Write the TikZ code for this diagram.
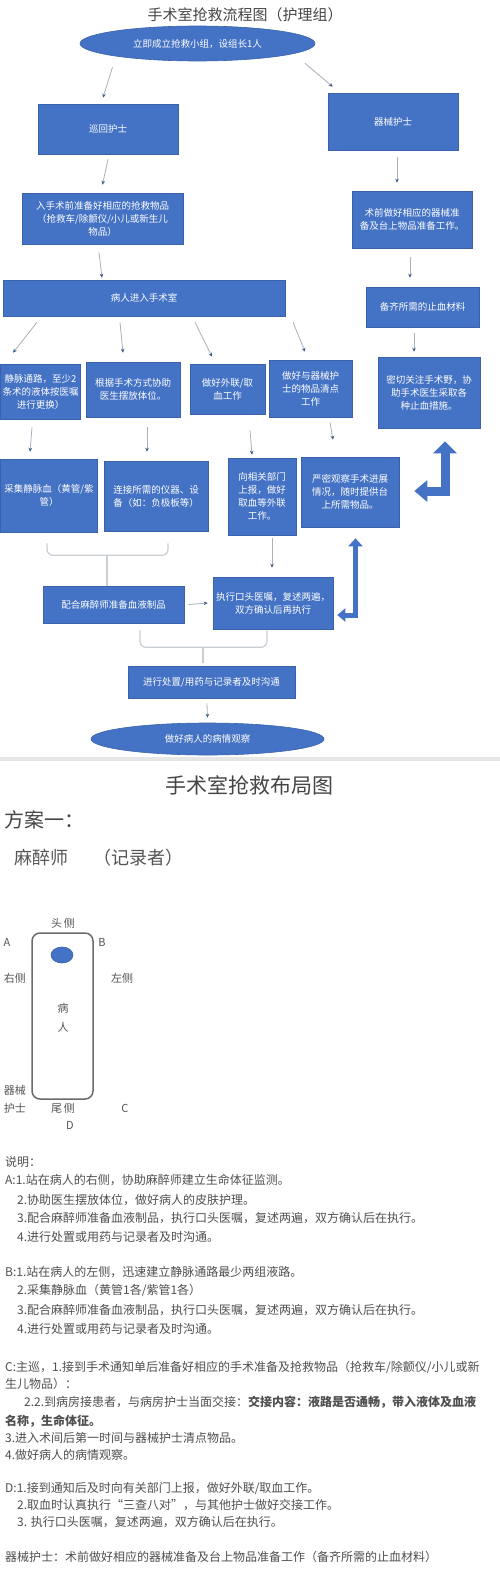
\documentclass[tikz,border=0pt]{standalone}
\usepackage{fontspec}
\setmainfont{Noto Sans CJK SC}
\usetikzlibrary{arrows.meta,calc,shapes.geometric}
\definecolor{boxblue}{HTML}{4472C4}
\definecolor{boxedge}{HTML}{3A62AC}
\definecolor{conngray}{HTML}{A9B0BC}
\definecolor{arrowblue}{HTML}{3E5A8C}
\definecolor{bracegray}{HTML}{C9CDD4}
\definecolor{labelgray}{HTML}{555555}
\definecolor{textgray}{HTML}{4F4F4F}
\definecolor{titlegray}{HTML}{454545}
\definecolor{sepgray}{HTML}{E6E6E6}
\definecolor{bedgray}{HTML}{6A6A6A}
\begin{document}
\begin{tikzpicture}[x=1pt,y=-1pt,
  fbox/.style={rectangle, fill=boxblue, draw=boxedge, line width=0.6pt, text=white, align=center, inner sep=0pt, font=\fontsize{9.5}{13}\selectfont},
  fell/.style={ellipse, fill=boxblue, draw=boxedge, line width=0.6pt, text=white, inner sep=0pt, font=\fontsize{9.5}{13}\selectfont},
  conn/.style={draw=conngray, line width=0.8pt, -{Stealth[length=4pt,width=3.6pt,color=arrowblue]}},
  bracepath/.style={draw=bracegray, line width=1.2pt, rounded corners=6pt},
  bigarrow/.style={draw=boxblue, line join=miter},
  lbl/.style={text=labelgray, inner sep=0pt, font=\fontsize{11}{13}\selectfont},
  txt/.style={text=textgray, inner sep=0pt, anchor=west, font=\fontsize{12}{14}\selectfont},
]
\useasboundingbox (0,0) rectangle (500,1574);
\fill[white] (0,0) rectangle (500,1574);
\begin{scope}
\clip (0,0) rectangle (500,1574);

% ---------- flow chart ----------
\node[font=\fontsize{15}{17}\selectfont, text=titlegray, inner sep=0pt] (t1) at (245,15) {手术室抢救流程图（护理组）};

\node[fell, minimum width=235pt, minimum height=35pt] (ell1) at (197.5,43.5) {立即成立抢救小组，设组长1人};
\node[fbox, minimum width=140pt, minimum height=50pt] (xh) at (108,129) {巡回护士};
\node[fbox, minimum width=130pt, minimum height=57pt] (qx) at (393,121.5) {器械护士};
\node[fbox, minimum width=161pt, minimum height=51pt] (abox) at (102.5,218.5) {入手术前准备好相应的抢救物品\\（抢救车/除颤仪/小儿或新生儿\\物品）};
\node[fbox, minimum width=120pt, minimum height=57pt] (rbox) at (412,219.5) {术前做好相应的器械准\\备及台上物品准备工作。};
\node[fbox, minimum width=113pt, minimum height=40pt] (bq) at (422.5,307) {备齐所需的止血材料};
\node[fbox, minimum width=282pt, minimum height=36pt] (enter) at (144,298) {病人进入手术室};

\node[fbox, minimum width=80pt, minimum height=55pt] (r1) at (40.5,391.5) {静脉通路，至少2\\条术的液体按医嘱\\进行更换）};
\node[fbox, minimum width=94pt, minimum height=55pt] (r2) at (133,389.5) {根据手术方式协助\\医生摆放体位。};
\node[fbox, minimum width=75pt, minimum height=50pt] (r3) at (227.5,389) {做好外联/取\\血工作};
\node[fbox, minimum width=83pt, minimum height=57pt] (r4) at (310.5,388.5) {做好与器械护\\士的物品清点\\工作};
\node[fbox, minimum width=102pt, minimum height=71pt] (r5) at (429,392.5) {密切关注手术野，协\\助手术医生采取各\\种止血措施。};

\node[fbox, minimum width=97pt, minimum height=73pt] (s1) at (49,495.5) {采集静脉血（黄管/紫\\管）};
\node[fbox, minimum width=104pt, minimum height=70pt] (s2) at (156,496) {连接所需的仪器、设\\备（如：负极板等）};
\node[fbox, minimum width=68pt, minimum height=77pt] (s3) at (262,496.5) {向相关部门\\上报，做好\\取血等外联\\工作。};
\node[fbox, minimum width=98pt, minimum height=70pt] (s4) at (350,492) {严密观察手术进展\\情况，随时提供台\\上所需物品。};

\node[fbox, minimum width=141pt, minimum height=37pt] (p1) at (113.5,604.5) {配合麻醉师准备血液制品};
\node[fbox, minimum width=120pt, minimum height=52pt] (p2) at (273,603) {执行口头医嘱，复述两遍，\\双方确认后再执行};
\node[fbox, minimum width=167pt, minimum height=32pt] (q) at (211.5,682) {进行处置/用药与记录者及时沟通};
\node[fell, minimum width=233pt, minimum height=32pt] (ell2) at (207.5,739) {做好病人的病情观察};

% thin connectors
\draw[conn] ([xshift=-85pt,yshift=-6pt]ell1.south) -- ([xshift=-5pt,yshift=6pt]xh.north);
\draw[conn] ([xshift=107.5pt,yshift=-2pt]ell1.south) -- ([xshift=5pt,yshift=6pt]qx.north west);
\draw[conn] ([yshift=-5pt]xh.south) -- ([yshift=8pt]abox.north);
\draw[conn] ([xshift=4pt,yshift=-7pt]qx.south) -- ([xshift=-15pt,yshift=8pt]rbox.north);
\draw[conn] ([xshift=-2pt,yshift=-9pt]rbox.south) -- ([xshift=-12.5pt,yshift=9pt]bq.north);
\draw[conn] ([xshift=-3.5pt,yshift=-8pt]abox.south) -- ([xshift=-42pt,yshift=2pt]enter.north);
\draw[conn] ([xshift=-107pt,yshift=-6pt]enter.south) -- ([xshift=-27.5pt,yshift=11pt]r1.north);
\draw[conn] ([xshift=-24pt,yshift=-6pt]enter.south) -- ([xshift=-10pt,yshift=9pt]r2.north);
\draw[conn] ([xshift=51pt,yshift=-6pt]enter.south) -- ([xshift=-15.5pt,yshift=7pt]r3.north);
\draw[conn] ([xshift=149pt,yshift=-6pt]enter.south) -- ([xshift=-5.5pt,yshift=8pt]r4.north);
\draw[conn] ([xshift=-8.5pt,yshift=-6pt]bq.south) -- ([xshift=-15pt,yshift=5pt]r5.north);
\draw[conn] ([xshift=-8.5pt,yshift=-8pt]r1.south) -- ([xshift=-19pt,yshift=7pt]s1.north);
\draw[conn] ([xshift=14pt,yshift=-10pt]r2.south) -- ([xshift=-9pt,yshift=9pt]s2.north);
\draw[conn] ([xshift=22.5pt,yshift=-16pt]r3.south) -- ([xshift=-10pt,yshift=3pt]s3.north);
\draw[conn] ([xshift=19.5pt,yshift=-5pt]r4.south) -- ([xshift=-17pt,yshift=17pt]s4.north);
\draw[conn] ([xshift=10pt,yshift=-3pt]s3.south) -- ([xshift=-1pt,yshift=9pt]p2.north);
\draw[conn] ([xshift=4pt]p1.east) -- ([xshift=-5pt]p2.west);
\draw[conn] ([xshift=-4.5pt,yshift=-5pt]q.south) -- ([yshift=5pt]ell2.north);

% braces
\coordinate (b1l) at ([xshift=-2pt,yshift=-11pt]s1.south);
\coordinate (b1r) at ([xshift=12pt,yshift=-12pt]s2.south);
\draw[bracepath] (b1l) -- ++(0,12) -| (b1r);
\draw[bracepath] ([xshift=-6.5pt]p1.north) -- ++(0,-31);
\coordinate (b2l) at ([xshift=26.5pt,yshift=-7pt]p1.south);
\coordinate (b2r) at ([xshift=-6pt,yshift=-1pt]p2.south);
\draw[bracepath] (b2l) -- ++(0,17) -| (b2r);
\draw[bracepath] ([xshift=-8.5pt,yshift=3pt]q.north) -- ++(0,-16);

% block arrows
\coordinate (u1) at ([xshift=16pt,yshift=-13pt]r5.south);
\coordinate (l1) at ([xshift=15pt,yshift=1pt]s4.east);
\draw[bigarrow, line width=9pt, {Triangle[length=12pt,width=23pt]}-{Triangle[length=13pt,width=21pt]}] (u1) |- (l1);
\coordinate (u2) at ([xshift=5.5pt,yshift=-11pt]s4.south);
\coordinate (l2) at ([xshift=4pt,yshift=-12pt]p2.east);
\draw[bigarrow, line width=5pt, {Triangle[length=8pt,width=14pt]}-{Triangle[length=8pt,width=13pt]}] (u2) |- (l2);

% separator
\fill[sepgray] (0,757) rectangle (500,761);

% ---------- layout ----------
\node[font=\fontsize{21}{24}\selectfont, text=titlegray, inner sep=0pt] (t2) at (249,785) {手术室抢救布局图};
\node[font=\fontsize{20}{23}\selectfont, text=titlegray, inner sep=0pt, anchor=west] (fa) at (4,820) {方案一：};
\node[font=\fontsize{18}{21}\selectfont, text=labelgray, inner sep=0pt, anchor=west] (mz) at (14,858) {麻醉师};
\node[font=\fontsize{18}{21}\selectfont, text=labelgray, inner sep=0pt, anchor=west] (jl) at (93,858) {（记录者）};

\node[draw=bedgray, line width=1.5pt, rounded corners=8pt, minimum width=61pt, minimum height=166pt, inner sep=0pt] (bed) at (62.5,1016) {};
\node[ellipse, fill=boxblue, draw=boxedge, line width=0.6pt, minimum width=22pt, minimum height=16pt, inner sep=0pt] (head) at (62,955) {};
\node[lbl] (ht) at (63,923) {头\,侧};
\node[lbl] (la) at (7,942) {A};
\node[lbl] (lb) at (102,942) {B};
\node[lbl] (rs) at (15,978) {右侧};
\node[lbl] (ls) at (122,978) {左侧};
\node[lbl] (p1l) at (63,1008) {病};
\node[lbl] (p2l) at (63,1027) {人};
\node[lbl] (qx1) at (15,1090) {器械};
\node[lbl] (qx2) at (15,1108) {护士};
\node[lbl] (wt) at (63,1108) {尾\,侧};
\node[lbl] (lc) at (125,1108) {C};
\node[lbl] (ld) at (70,1125) {D};

% explanation
\node[txt] (e0) at (5,1162) {说明：};
\node[txt] (a1) at (5,1180) {A:1.站在病人的右侧，协助麻醉师建立生命体征监测。};
\node[txt] (a2) at (17,1200) {2.协助医生摆放体位，做好病人的皮肤护理。};
\node[txt] (a3) at (17,1218) {3.配合麻醉师准备血液制品，执行口头医嘱，复述两遍，双方确认后在执行。};
\node[txt] (a4) at (17,1237) {4.进行处置或用药与记录者及时沟通。};
\node[txt] (bb1) at (5,1272) {B:1.站在病人的左侧，迅速建立静脉通路最少两组液路。};
\node[txt] (bb2) at (17,1290) {2.采集静脉血（黄管1各/紫管1各）};
\node[txt] (bb3) at (17,1310) {3.配合麻醉师准备血液制品，执行口头医嘱，复述两遍，双方确认后在执行。};
\node[txt] (bb4) at (17,1329) {4.进行处置或用药与记录者及时沟通。};
\node[txt] (c1) at (5,1367) {C:主巡，1.接到手术通知单后准备好相应的手术准备及抢救物品（抢救车/除颤仪/小儿或新};
\node[txt] (c1b) at (5,1384) {生儿物品）：};
\node[txt] (c2) at (24,1402) {2.2.到病房接患者，与病房护士当面交接：\bfseries 交接内容：液路是否通畅，带入液体及血液};
\node[txt, font=\fontsize{12}{14}\selectfont\bfseries] (c2b) at (5,1421) {名称，生命体征。};
\node[txt] (c3) at (5,1438) {3.进入术间后第一时间与器械护士清点物品。};
\node[txt] (c4) at (5,1455) {4.做好病人的病情观察。};
\node[txt] (d1) at (5,1488) {D:1.接到通知后及时向有关部门上报，做好外联/取血工作。};
\node[txt] (d2) at (17,1505) {2.取血时认真执行“三查八对”，与其他护士做好交接工作。};
\node[txt] (d3) at (17,1522) {3. 执行口头医嘱，复述两遍，双方确认后在执行。};
\node[txt] (qxt) at (5,1557) {器械护士：术前做好相应的器械准备及台上物品准备工作（备齐所需的止血材料）};
\end{scope}
\end{tikzpicture}
\end{document}
